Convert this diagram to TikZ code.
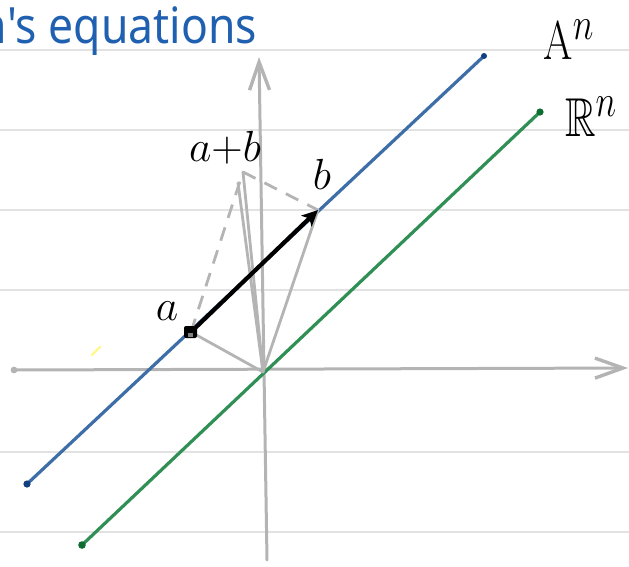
\documentclass[tikz,border=0pt]{standalone}
\usepackage{amssymb}
\usepackage{fontspec}
\newfontfamily\titlefont{Noto Sans}
\usetikzlibrary{arrows.meta}
\definecolor{rule}{HTML}{E2E2E2}
\definecolor{axisgray}{HTML}{B4B4B4}
\definecolor{lineblue}{HTML}{3E6EA8}
\definecolor{dotblue}{HTML}{123F80}
\definecolor{linegreen}{HTML}{2F8F55}
\definecolor{dotgreen}{HTML}{0E6E32}
\definecolor{titleblue}{HTML}{2060B0}
\tikzset{
  ruled/.style={rule, line width=1.8pt},
  axisline/.style={axisgray, line width=3pt, line cap=round},
  axisarrow/.style={axisline, -{Straight Barb[length=28pt, width=20pt, line width=3.4pt]}},
  vec/.style={axisgray, line width=2.8pt, line cap=round},
  dvec/.style={axisgray, line width=2.8pt, dash pattern=on 14pt off 10pt},
  spaceline/.style={line width=3.2pt, line cap=round},
  lbl/.style={inner sep=0pt, font=\Huge, scale=1.75},
  biglbl/.style={inner sep=0pt, font=\Huge, xscale=1.7, yscale=2.2},
  ptdot/.style={circle, inner sep=0pt, minimum size=5pt}
}
\begin{document}
\begin{tikzpicture}[x=1pt, y=-1pt]
\useasboundingbox (0,0) rectangle (629,566);
\clip (0,0) rectangle (629,566);
% ruled paper
\foreach \yy in {50,130,210,290,452,532}
  \draw[ruled] (0,\yy) -- (629,\yy);
% title
\node[anchor=base east, inner sep=0pt, text=titleblue, font=\titlefont\fontsize{50}{52}\selectfont, xscale=0.89] (title) at (257,43) {n's equations};
% yellow mark
\draw[yellow!45, line width=2.4pt, line cap=round] (92,355) -- (100,347);
% coordinates
\coordinate (O) at (263,372);
\coordinate (xl) at (14,370);
\coordinate (xr) at (628,368);
\coordinate (yt) at (259,57);
\coordinate (yb) at (267,560);
% axes
\draw[axisarrow] (xl) -- (xr);
\draw[axisarrow] (yb) -- (yt);
\fill[axisgray] (xl) circle (3.4pt);
% lines A^n and R^n
\coordinate (A1) at (27,484);
\coordinate (A2) at (484,56);
\coordinate (R1) at (82,545);
\coordinate (R2) at (540,112);
\draw[spaceline, lineblue] (A1) -- (A2);
\fill[dotblue] (A1) circle (3.6pt) (A2) circle (3pt);
\draw[spaceline, linegreen] (R1) -- (R2);
\fill[dotgreen] (R1) circle (3.8pt) (R2) circle (3.6pt);
% points
\node[ptdot] (a) at (191,332) {};
\node[ptdot] (b) at (318,210) {};
\node[ptdot] (ab) at (243,172) {};
% gray vectors
\draw[vec] (O) -- (a.center);
\draw[vec] (O) -- (b.center);
\draw[vec] (O) -- (ab.center);
\draw[vec] (238,183) -- (O);
\draw[dvec] (a.center) -- (ab.center);
\draw[dvec] (ab.center) -- (b.center);
% black arrow
\draw[line width=4.2pt, line cap=round, -{Stealth[length=16pt, width=15pt, inset=4pt]}] (a.center) -- (b.center);
\fill[black, rounded corners=2pt] (184,326) rectangle (197,338);
\fill[gray] (188,333) rectangle (193,337);
% labels
\node[lbl, anchor=center] (la) at (167,311) {$a$};
\node[lbl, anchor=center] (lb) at (322,174) {$b$};
\node[lbl, anchor=center] (lab) at (225,148) {$a{+}b$};
\node[biglbl, anchor=center] (lA) at (569,40) {$\mathrm{A}^{n}$};
\node[biglbl, anchor=center] (lR) at (591,117) {$\mathbb{R}^{n}$};
\end{tikzpicture}
\end{document}
